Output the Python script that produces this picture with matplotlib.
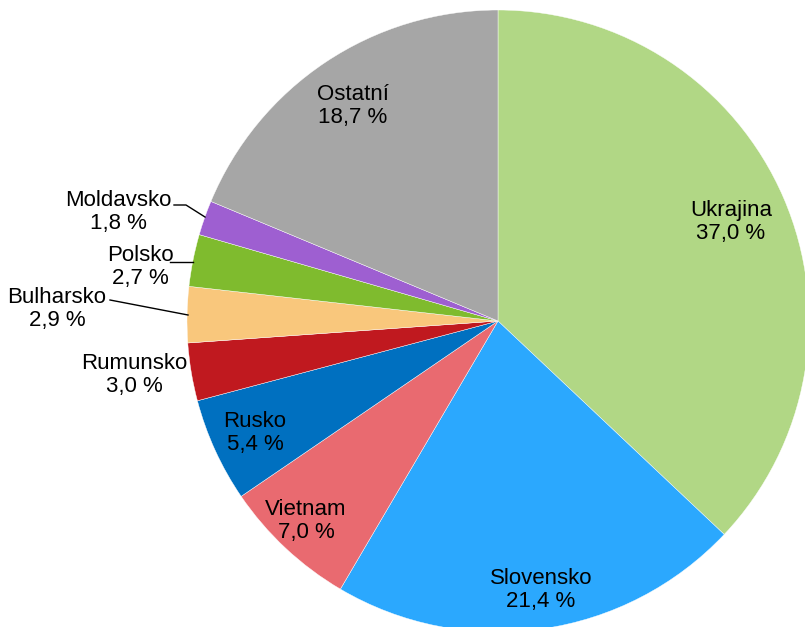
import numpy as np
import matplotlib.pyplot as plt

plt.rcParams['font.family'] = ['Liberation Sans', 'DejaVu Sans']

countries = ["Ukrajina", "Slovensko", "Vietnam", "Rusko", "Rumunsko",
             "Bulharsko", "Polsko", "Moldavsko", "Ostatní"]
shares = [37.0, 21.4, 7.0, 5.4, 3.0, 2.9, 2.7, 1.8, 18.7]
colors = ["#b1d785", "#2ba8fe", "#e96a70", "#0070c0", "#c0191f",
          "#f9c77c", "#7fbb2e", "#9e5fd1", "#a6a6a6"]

# figure in pixel units (y up)
W, H = 805, 627
cx, cy, r = 498, H - 321, 311

fig = plt.figure(figsize=(W / 100, H / 100), dpi=100)
ax = fig.add_axes([0, 0, 1, 1])

ax.pie(shares, colors=colors, startangle=90, counterclock=False,
       center=(cx, cy), radius=r, frame=True,
       wedgeprops=dict(linewidth=0.3, edgecolor='white'))
ax.set_xlim(0, W)
ax.set_ylim(0, H)
ax.set_aspect('equal')
ax.axis('off')

# label centres in pixel coords (from top)
label_pos = {
    "Ukrajina": (731, 222),
    "Slovensko": (541, 590),
    "Vietnam": (306, 521),
    "Rusko": (255, 433),
    "Rumunsko": (134, 375),
    "Bulharsko": (57, 309),
    "Polsko": (140, 267),
    "Moldavsko": (118, 212),
    "Ostatní": (353, 106),
}

for name, val in zip(countries, shares):
    x, y = label_pos[name]
    txt = f"{name}\n{val:.1f} %".replace(".", ",")
    ax.text(x, H - y, txt, ha='center', va='center', fontsize=16,
            linespacing=1.15, color='black')

# leader lines
leaders = [
    [(110, 300), (188, 315)],
    [(170, 262), (193, 262)],
    [(174, 205), (186, 205), (205, 217)],
]
for pts in leaders:
    xs = [p[0] for p in pts]
    ys = [H - p[1] for p in pts]
    ax.plot(xs, ys, color='black', linewidth=1)

fig.savefig("out.png", dpi=100)
